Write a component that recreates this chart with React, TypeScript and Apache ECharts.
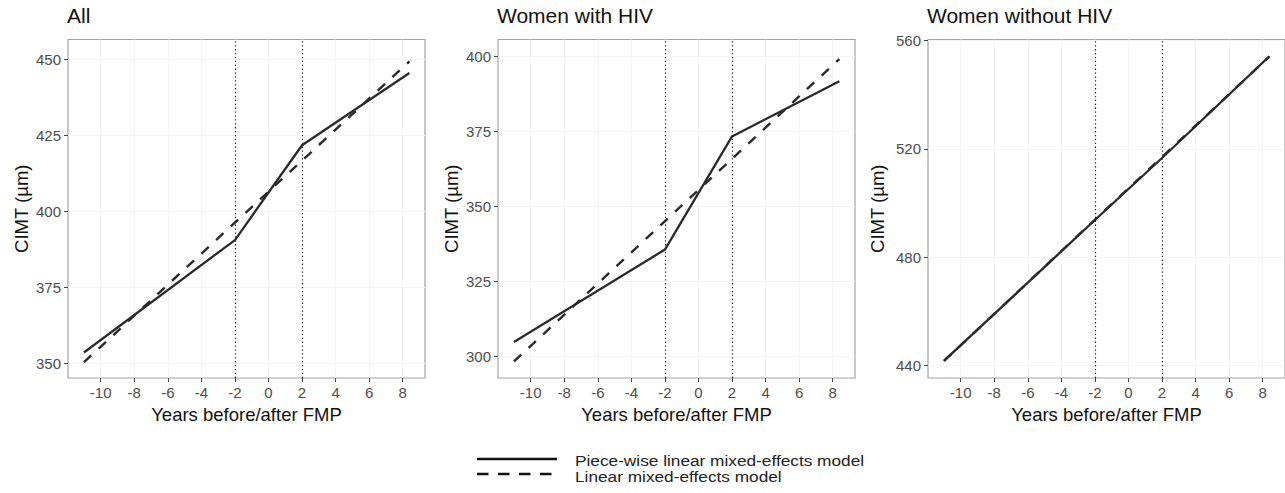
import React, { useEffect, useRef } from "react";
import * as echarts from "echarts";

// ---- data ----
const panelTitles = ["All", "Women with HIV", "Women without HIV"];
const piecewiseYears = [-11, -2, 2, 8.4];
const linearYears = [-11, 8.4];
const knots = [-2, 2];
const xTickValues = [-10, -8, -6, -4, -2, 0, 2, 4, 6, 8];

const allPiecewise = [353.6, 390.6, 421.8, 445.6];
const allLinear = [350.4, 449.4];
const hivPiecewise = [304.8, 335.6, 373.3, 391.7];
const hivLinear = [298.3, 399.1];
const noHivPiecewise = [441.6, 493.7, 516.6, 554.2];
const noHivLinear = [441.6, 554.1];

const allYTicks = [350, 375, 400, 425, 450];
const hivYTicks = [300, 325, 350, 375, 400];
const noHivYTicks = [440, 480, 520, 560];

const legendLabels = ["Piece-wise linear mixed-effects model", "Linear mixed-effects model"];

// ---- layout / style ----
const FONT = "'Liberation Sans', Arial, Helvetica, sans-serif";
const LINE_COLOR = "#2a2a2a";
const X_MIN = -11.95;
const X_MAX = 9.33;
const gridLefts = [68, 498, 928];
const GRID_TOP = 39.5;
const GRID_W = 357;
const GRID_H = 338.5;
const yRanges = [
  [345.2, 456.6],
  [292.8, 405.6],
  [435.3, 560.4],
];
const yNameGaps = [37, 37, 41];

const panels = [
  { pw: allPiecewise, lin: allLinear, ticks: allYTicks },
  { pw: hivPiecewise, lin: hivLinear, ticks: hivYTicks },
  { pw: noHivPiecewise, lin: noHivLinear, ticks: noHivYTicks },
];

function buildOption() {
  const series: any[] = [];
  panels.forEach((p, i) => {
    series.push({
      type: "line",
      name: legendLabels[0],
      xAxisIndex: i,
      yAxisIndex: i,
      data: piecewiseYears.map((x, k) => [x, p.pw[k]]),
      symbol: "none",
      lineStyle: { color: LINE_COLOR, width: 2.3, type: "solid" },
      z: 3,
      markLine: {
        silent: true,
        symbol: "none",
        label: { show: false },
        lineStyle: { color: "#222", width: 1.2, type: [1.3, 2.6] },
        data: knots.map((k) => ({ xAxis: k })),
      },
    });
    series.push({
      type: "line",
      name: legendLabels[1],
      xAxisIndex: i,
      yAxisIndex: i,
      data: linearYears.map((x, k) => [x, p.lin[k]]),
      symbol: "none",
      lineStyle: { color: LINE_COLOR, width: 2.4, type: [10, 10] },
      z: 4,
    });
  });

  return {
    animation: false,
    textStyle: { fontFamily: FONT },
    title: panelTitles.map((t, i) => ({
      text: t,
      left: gridLefts[i] - 1,
      top: 5,
      padding: 0,
      textStyle: { fontFamily: FONT, fontSize: 21, fontWeight: "normal", color: "#111" },
    })),
    grid: gridLefts.map((l) => ({
      left: l,
      top: GRID_TOP,
      width: GRID_W,
      height: GRID_H,
      show: true,
      borderColor: "#a3a3a3",
      borderWidth: 1.2,
      backgroundColor: "transparent",
    })),
    xAxis: panels.map((_, i) => ({
      type: "value",
      gridIndex: i,
      min: X_MIN,
      max: X_MAX,
      axisLine: { show: false, onZero: false },
      axisTick: { show: true, length: 4, customValues: xTickValues, lineStyle: { color: "#444", width: 1 } },
      axisLabel: { customValues: xTickValues, color: "#4d4d4d", fontSize: 15, margin: 7, fontFamily: FONT },
      splitLine: { show: true, lineStyle: { color: "#f5f5f5", width: 1 } },
      name: "Years before/after FMP",
      nameLocation: "middle",
      nameGap: 21,
      nameTextStyle: { fontSize: 18.5, color: "#111", fontFamily: FONT },
    })),
    yAxis: panels.map((p, i) => ({
      type: "value",
      gridIndex: i,
      min: yRanges[i][0],
      max: yRanges[i][1],
      axisLine: { show: false, onZero: false },
      axisTick: { show: true, length: 4, customValues: p.ticks, lineStyle: { color: "#444", width: 1 } },
      axisLabel: { customValues: p.ticks, color: "#4d4d4d", fontSize: 15, margin: 7, fontFamily: FONT },
      splitLine: { show: true, lineStyle: { color: "#f5f5f5", width: 1 } },
      name: "CIMT (µm)",
      nameLocation: "middle",
      nameGap: yNameGaps[i],
      nameRotate: 90,
      nameTextStyle: { fontSize: 18.5, color: "#111", fontFamily: FONT },
    })),
    graphic: [
      {
        type: "line",
        shape: { x1: 477, y1: 459, x2: 557, y2: 459 },
        style: { stroke: "#111", lineWidth: 2.6 },
      },
      {
        type: "line",
        shape: { x1: 477, y1: 474, x2: 557, y2: 474 },
        style: { stroke: "#111", lineWidth: 2.6, lineDash: [11.5, 9.5] },
      },
      {
        type: "text",
        x: 575,
        y: 460,
        scaleX: 1.15,
        style: { text: legendLabels[0], fontSize: 15, fontFamily: FONT, fill: "#222", verticalAlign: "middle" },
      },
      {
        type: "text",
        x: 575,
        y: 476,
        scaleX: 1.15,
        style: { text: legendLabels[1], fontSize: 15, fontFamily: FONT, fill: "#222", verticalAlign: "middle" },
      },
    ],
    series,
  };
}

export default function App() {
  const ref = useRef<HTMLDivElement>(null);
  useEffect(() => {
    document.body.style.margin = "0";
    const chart = echarts.init(ref.current as HTMLDivElement, null, { renderer: "svg" });
    chart.setOption(buildOption() as any);
    return () => chart.dispose();
  }, []);
  return <div ref={ref} style={{ width: 1285, height: 493 }} />;
}
